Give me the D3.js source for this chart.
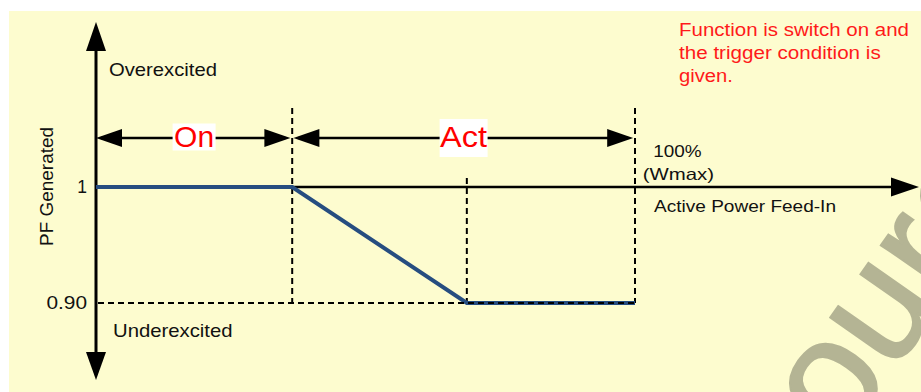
<!DOCTYPE html>
<html><head><meta charset="utf-8">
<script src="https://cdn.jsdelivr.net/npm/d3@7"></script>
<style>html,body{margin:0;padding:0;background:#fff;overflow:hidden}svg{display:block}</style>
</head><body>
<script>
// ---- data ----
const powerPct = [0, 36.4, 68.8, 100];        // active power feed-in (% of Wmax)
const pfValues = [1, 1, 0.90, 0.90];          // PF generated
const pfTicks = [1, 0.90];
const pfTickLabels = ["1", "0.90"];
const zoneNames = ["On", "Act"];
const zoneStart = [0, 36.4];
const zoneEnd = [36.4, 100];
const noteLines = ["Function is switch on and", "the trigger condition is", "given."];

const W = 921, H = 392;
const FONT = "'Liberation Sans', Arial, sans-serif";
const svg = d3.select("body").append("svg").attr("width", W).attr("height", H);

svg.append("rect").attr("x", 9).attr("y", 11).attr("width", W - 9).attr("height", H - 11).attr("fill", "#fdfccf");

// watermark
svg.append("text").attr("transform", "translate(782,532) rotate(-55)")
  .attr("font-family", FONT).attr("font-size", 158).attr("fill", "#b4b494")
  .attr("stroke", "#b4b494").attr("stroke-width", 2)
  .text("Source");

const x = d3.scaleLinear().domain([0, 100]).range([96, 635]);
const y = d3.scaleLinear().domain([0.9, 1]).range([303, 187]);

function arrowHead(tipX, tipY, dx, dy, len, half) {
  const bx = tipX - dx * len, by = tipY - dy * len;
  const px = -dy, py = dx;
  return `M${tipX},${tipY}L${bx + px * half},${by + py * half}L${bx - px * half},${by - py * half}Z`;
}

// dashed guide lines
const dash = "6,4";
const g = svg.append("g");
[zoneStart[1], zoneEnd[1]].forEach(p => {
  g.append("line").attr("x1", x(p)).attr("x2", x(p)).attr("y1", 108).attr("y2", y(0.9))
    .attr("stroke", "#000").attr("stroke-width", 2).attr("stroke-dasharray", dash);
});
g.append("line").attr("x1", x(powerPct[2])).attr("x2", x(powerPct[2])).attr("y1", 178).attr("y2", y(0.9))
  .attr("stroke", "#000").attr("stroke-width", 2).attr("stroke-dasharray", dash);

// axes
const axisY0 = x(0);
svg.append("line").attr("x1", axisY0).attr("x2", axisY0).attr("y1", 45).attr("y2", 356)
  .attr("stroke", "#000").attr("stroke-width", 3);
svg.append("path").attr("d", arrowHead(axisY0, 22, 0, -1, 29, 10)).attr("fill", "#000");
svg.append("path").attr("d", arrowHead(axisY0, 380, 0, 1, 28, 10)).attr("fill", "#000");
svg.append("line").attr("x1", axisY0).attr("x2", 895).attr("y1", y(1)).attr("y2", y(1))
  .attr("stroke", "#000").attr("stroke-width", 2.7);
svg.append("path").attr("d", arrowHead(919, y(1), 1, 0, 28, 9.5)).attr("fill", "#000");

// PF curve
const line = d3.line().x((d, i) => x(powerPct[i])).y(d => y(d));
svg.append("path").datum(pfValues).attr("d", line).attr("fill", "none")
  .attr("stroke", "#264d80").attr("stroke-width", 4);

// dashed horizontal at 0.90 (drawn over curve)
svg.append("line").attr("x1", axisY0 + 2).attr("x2", x(100)).attr("y1", y(0.9)).attr("y2", y(0.9))
  .attr("stroke", "#000").attr("stroke-width", 2).attr("stroke-dasharray", dash);

// zone arrows
const arrowY = 138;
zoneNames.forEach((name, i) => {
  const x1 = x(zoneStart[i]) + (i === 0 ? 0 : 1.2), x2 = x(zoneEnd[i]) - 1.8;
  svg.append("line").attr("x1", x1 + 5).attr("x2", x2 - 5).attr("y1", arrowY).attr("y2", arrowY)
    .attr("stroke", "#000").attr("stroke-width", 2.5);
  svg.append("path").attr("d", arrowHead(x1, arrowY, -1, 0, 26, 9)).attr("fill", "#000");
  svg.append("path").attr("d", arrowHead(x2, arrowY, 1, 0, 26, 9)).attr("fill", "#000");
  const cx = (x(zoneStart[i]) + x(zoneEnd[i])) / 2;
  const boxW = i === 0 ? 43 : 48, boxTop = i === 0 ? 123.5 : 119, boxH = i === 0 ? 27 : 38;
  svg.append("rect").attr("x", cx - boxW / 2).attr("y", boxTop).attr("width", boxW).attr("height", boxH).attr("fill", "#fff");
  svg.append("text").attr("x", cx).attr("y", 146.5).attr("text-anchor", "middle")
    .attr("font-family", FONT).attr("font-size", 29).attr("fill", "#ff0000")
    .attr("textLength", i === 0 ? 40 : 47).attr("lengthAdjust", "spacingAndGlyphs").text(name);
});

function label(txt, xx, yy, size, len, color, anchor) {
  const t = svg.append("text").attr("x", xx).attr("y", yy).attr("font-family", FONT)
    .attr("font-size", size).attr("fill", color || "#111").attr("text-anchor", anchor || "start").text(txt);
  if (len) t.attr("textLength", len).attr("lengthAdjust", "spacingAndGlyphs");
  return t;
}

// tick labels
pfTicks.forEach((v, i) => {
  label(pfTickLabels[i], 87, y(v) + 6, 17.5, i === 1 ? 40.6 : null, "#111", "end");
});

label("Overexcited", 109, 76, 19, 108);
label("Underexcited", 113, 336.5, 18.5, 119.6);
label("100%", 653.3, 157.3, 16.5, 48.4);
label("(Wmax)", 642.7, 180.3, 16.5, 71.3);
label("Active Power Feed-In", 654, 211.7, 16.5, 182);

svg.append("text").attr("transform", "translate(53,186.5) rotate(-90)")
  .attr("text-anchor", "middle").attr("font-family", FONT).attr("font-size", 19)
  .attr("fill", "#111").attr("textLength", 119).attr("lengthAdjust", "spacingAndGlyphs")
  .text("PF Generated");

const noteLens = [230, 201.7, 54];
const noteBase = [36.3, 59, 81.5];
noteLines.forEach((s, i) => label(s, 679, noteBase[i], 17.5, noteLens[i], "#ff1a1a"));
</script>
</body></html>
